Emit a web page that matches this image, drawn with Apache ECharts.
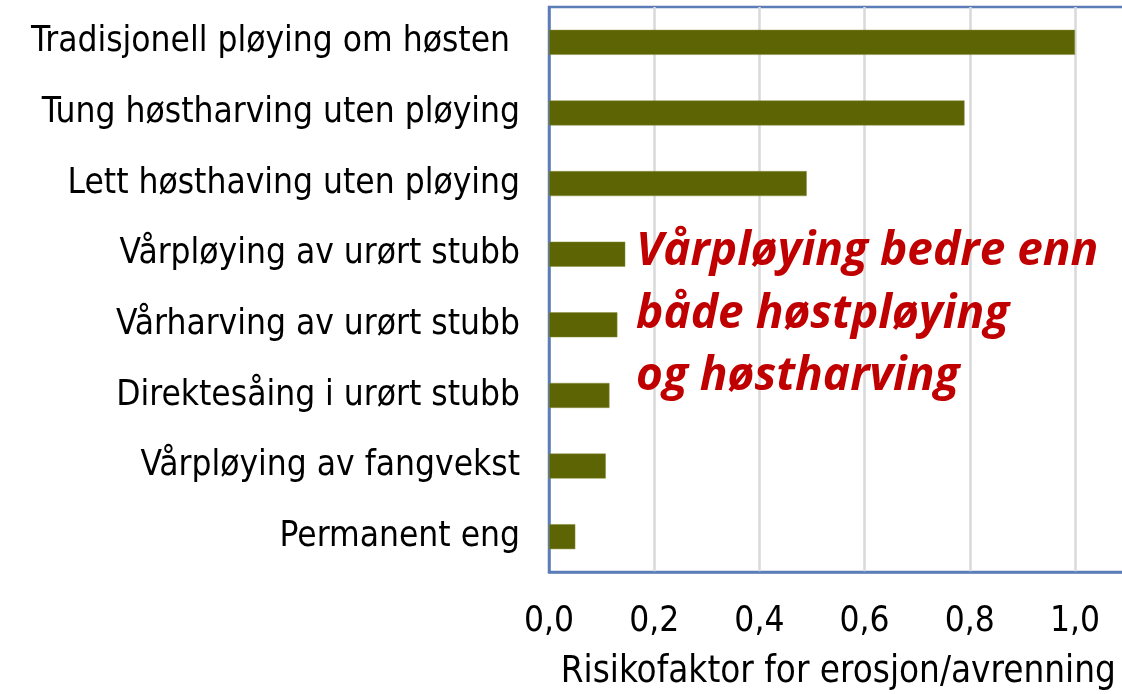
<!DOCTYPE html>
<html>
<head>
<meta charset="utf-8">
<script src="https://cdn.jsdelivr.net/npm/echarts@6/dist/echarts.min.js"></script>
<style>
  html, body { margin: 0; padding: 0; background: #fff; }
  #chart { width: 1122px; height: 694px; }
</style>
</head>
<body>
<div id="chart"></div>
<script>
// metoder, fra øverst til nederst
const categories = [
    'Tradisjonell pløying om høsten ',
    'Tung høstharving uten pløying',
    'Lett høsthaving uten pløying',
    'Vårpløying av urørt stubb',
    'Vårharving av urørt stubb',
    'Direktesåing i urørt stubb',
    'Vårpløying av fangvekst',
    'Permanent eng'
];
const risiko = [1.0, 0.79, 0.49, 0.145, 0.13, 0.115, 0.108, 0.05];
const axisTitle = 'Risikofaktor for erosjon/avrenning';
const noteLines = ['Vårpløying bedre enn', 'både høstpløying', 'og høstharving'];

const labelFont = '"DejaVu Sans Condensed", "DejaVu Sans", sans-serif';
const blue = '#5B7DB8';

const chart = echarts.init(document.getElementById('chart'));
chart.setOption({
    animation: false,
    backgroundColor: '#fff',
    grid: {
        left: 549,
        top: 7,
        width: 578.6,
        height: 565,
        outerBoundsMode: 'none',
        show: true,
        borderColor: blue,
        borderWidth: 2.5,
        backgroundColor: 'transparent'
    },
    xAxis: {
        type: 'value',
        min: 0,
        max: 1.1,
        interval: 0.2,
        name: axisTitle,
        nameLocation: 'middle',
        nameGap: 82,
        nameTextStyle: {
            fontFamily: labelFont,
            fontSize: 36.5,
            color: '#000'
        },
        axisLine: { show: true, lineStyle: { color: blue, width: 2.5 } },
        axisTick: { show: false },
        axisLabel: {
            margin: 32,
            showMaxLabel: false,
            fontFamily: labelFont,
            fontSize: 35,
            color: '#000',
            formatter: (v) => v.toFixed(1).replace('.', ',')
        },
        splitLine: {
            showMinLine: false,
            lineStyle: { color: '#D9D9D9', width: 2.5 }
        }
    },
    yAxis: {
        type: 'category',
        inverse: true,
        data: categories,
        axisLine: { show: true, lineStyle: { color: blue, width: 2.5 } },
        axisTick: { show: false },
        axisLabel: {
            margin: 29,
            fontFamily: labelFont,
            fontSize: 35,
            color: '#000'
        },
        splitLine: { show: false }
    },
    series: [{
        type: 'bar',
        data: risiko,
        barWidth: 25,
        itemStyle: {
            color: '#5C6404',
            borderColor: '#8A9040',
            borderWidth: 0.5
        }
    }],
    graphic: [{
        type: 'text',
        left: 636,
        top: 221,
        z: 10,
        style: {
            text: noteLines.join('\n'),
            fontFamily: '"Open Sans", Lato, sans-serif',
            fontStyle: 'italic',
            fontWeight: 'bold',
            fontSize: 46,
            lineHeight: 62.5,
            fill: '#C00000'
        }
    }]
});
</script>
</body>
</html>
